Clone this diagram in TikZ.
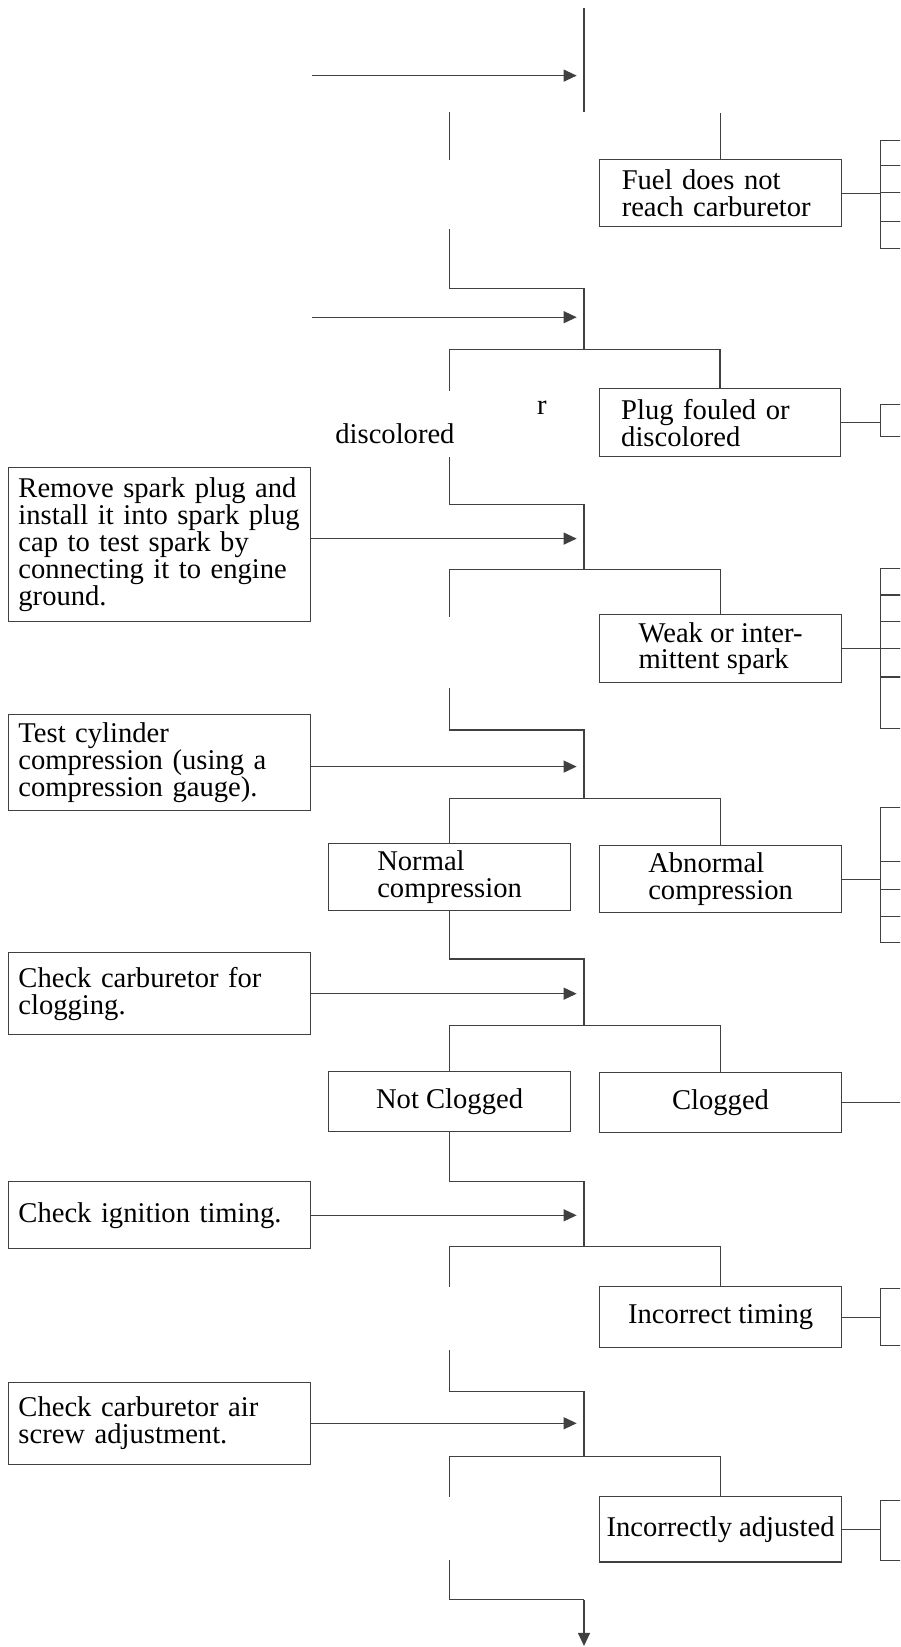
\documentclass[tikz,border=0pt]{standalone}
\usepackage{fontspec}
\setmainfont{Liberation Serif}
\usetikzlibrary{arrows.meta}

\begin{document}
\begin{tikzpicture}[x=0.5251pt, y=-0.5251pt,
  wire/.style={draw=black!75, line width=0.55pt},
  arr/.style={wire, -{Triangle[length=6.5pt,width=6pt]}},
  txt/.style={font=\fontsize{14.3}{13.4}\selectfont},
  testbox/.style={txt, wire, align=left, text width=141.2pt, inner xsep=5pt, inner ysep=1pt},
  causebox/.style={txt, wire, align=left, text width=98.8pt, inner xsep=11pt, inner ysep=1pt},
  midbox/.style={txt, wire, align=left, minimum width=120.8pt, inner xsep=2pt, inner ysep=1pt},
  onebox/.style={txt, wire, align=center, minimum width=120.8pt, inner xsep=2pt, inner ysep=1pt},
  sidebox/.style={wire, anchor=north west, minimum width=24pt, inner sep=0pt}]

\useasboundingbox (0,0) rectangle (857,1568);
\clip (0,0) rectangle (857,1568);

% Fixed points of the main line
\coordinate (tip) at (549,0);
\coordinate (edge) at (870,0);
\coordinate (top) at (556,8);
\coordinate (s0) at (556,107);
\coordinate (in0) at (297,72);
\coordinate (f0a) at (428,107);
\coordinate (f0b) at (428,152);
\coordinate (r0) at (686,108);
\coordinate (l1) at (428,218);
\coordinate (j1) at (556,275);
\coordinate (s1) at (556,333);
\coordinate (in1) at (297,302);
\coordinate (a1) at (428,372);
\coordinate (l2) at (428,435);
\coordinate (j2) at (556,480);
\coordinate (s2) at (556,542);
\coordinate (a2) at (428,587);
\coordinate (l3) at (428,655);
\coordinate (j3) at (556,695);
\coordinate (s3) at (556,760);
\coordinate (j4) at (556,913);
\coordinate (s4) at (556,976);
\coordinate (j5) at (556,1125);
\coordinate (s5) at (556,1187);
\coordinate (a5) at (428,1225);
\coordinate (l6) at (428,1285);
\coordinate (j6) at (556,1325);
\coordinate (s6) at (556,1387);
\coordinate (a6) at (428,1425);
\coordinate (l7) at (428,1485);
\coordinate (j7) at (556,1523);
\coordinate (out) at (556,1567);

% Checks on the left
\node[testbox, minimum height=77.2pt] (sparktest) at (152,518.5) {Remove~spark~plug~and\\install~it~into~spark~plug\\cap to test spark by\\connecting~it~to~engine\\ground.};
\node[testbox, minimum height=48.3pt] (comptest) at (152,726) {Test cylinder\\compression (using a\\compression gauge).};
\node[testbox, minimum height=41pt] (carbtest) at (152,946) {Check carburetor for\\clogging.};
\node[testbox, minimum height=33.6pt] (timingtest) at (152,1157) {Check ignition timing.};
\node[testbox, minimum height=41pt] (airtest) at (152,1355) {Check carburetor air\\screw adjustment.};

% Results
\node[causebox, minimum height=33.6pt] (fuel) at (686,184) {Fuel does not\\reach carburetor};
\node[causebox, minimum height=34.1pt] (plug) at (685.5,402.5) {Plug fouled or\\discolored};
\node[midbox, minimum height=34.1pt] (weak) at (686,617.5) {Weak or inter-\\mittent spark};
\node[midbox, minimum height=33.6pt] (normal) at (428,835) {Normal\\compression};
\node[midbox, minimum height=33.6pt] (abnormal) at (686,837) {Abnormal\\compression};
\node[onebox, minimum height=29.9pt] (notclog) at (428,1048.5) {Not Clogged};
\node[onebox, minimum height=29.9pt] (clog) at (686,1049.5) {Clogged};
\node[onebox, minimum height=30.5pt] (timing) at (686,1254) {Incorrect timing};
\node[onebox, minimum height=32.6pt] (airadj) at (686,1456) {Incorrectly adjusted};

\node[txt] (rlab) at (516,388) {r};
\node[txt] (disclab) at (376,413) {discolored};

% Remedy columns, cut at the edge
\foreach \y/\h [count=\i] in {133/12.6,157/13.7,183/14.2,210/13.7}
  \node[sidebox, minimum height=\h pt] (fuel-\i) at (838,\y) {};
\node[sidebox, minimum height=15.8pt] (plug-1) at (838,385) {};
\foreach \y/\h [count=\i] in {541/13.1,566/13.1,591/13.7,617/14.2,644/25.7}
  \node[sidebox, minimum height=\h pt] (weak-\i) at (838,\y) {};
\foreach \y/\h [count=\i] in {768/27.3,820/13.7,846/13.7,872/13.1}
  \node[sidebox, minimum height=\h pt] (abnormal-\i) at (838,\y) {};
\node[sidebox, minimum height=28.4pt] (timing-1) at (838,1226) {};
\node[sidebox, minimum height=29.9pt] (airadj-1) at (838,1428) {};

\draw[wire] (fuel.east) -- (fuel.east -| fuel-1.west);
\draw[wire] (plug.east) -- (plug.east -| plug-1.west);
\draw[wire] (weak.east) -- (weak.east -| weak-1.west);
\draw[wire] (abnormal.east) -- (abnormal.east -| abnormal-1.west);
\draw[wire] (clog.east) -- (clog.east -| edge);
\draw[wire] (timing.east) -- (timing.east -| timing-1.west);
\draw[wire] (airadj.east) -- (airadj.east -| airadj-1.west);

% Main line
\draw[wire] (top) -- (s0);
\draw[arr] (in0) -- (in0 -| tip);
\draw[wire] (f0a) -- (f0b);
\draw[wire] (r0) -- (fuel.north);

\draw[wire] (l1) |- (j1) -- (s1);
\draw[arr] (in1) -- (in1 -| tip);
\draw[wire] (a1) |- (s1) -| (plug.north);

\draw[wire] (l2) |- (j2) -- (s2);
\draw[arr] ([yshift=3pt]sparktest.east) -- ([yshift=3pt]sparktest.east -| tip);
\draw[wire] (a2) |- (s2) -| (weak.north);

\draw[wire] (l3) |- (j3) -- (s3);
\draw[arr] ([yshift=-2pt]comptest.east) -- ([yshift=-2pt]comptest.east -| tip);
\draw[wire] (normal.north) |- (s3) -| (abnormal.north);

\draw[wire] (normal.south) |- (j4) -- (s4);
\draw[arr] (carbtest.east) -- (carbtest.east -| tip);
\draw[wire] (notclog.north) |- (s4) -| (clog.north);

\draw[wire] (notclog.south) |- (j5) -- (s5);
\draw[arr] (timingtest.east) -- (timingtest.east -| tip);
\draw[wire] (a5) |- (s5) -| (timing.north);

\draw[wire] (l6) |- (j6) -- (s6);
\draw[arr] (airtest.east) -- (airtest.east -| tip);
\draw[wire] (a6) |- (s6) -| (airadj.north);

\draw[wire] (l7) |- (j7);
\draw[arr] (j7) -- (out);

\end{tikzpicture}
\end{document}
